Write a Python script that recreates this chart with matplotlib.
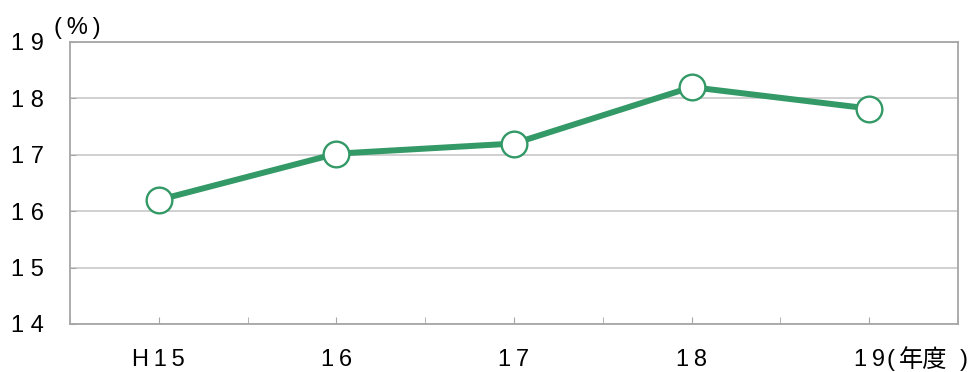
import matplotlib.pyplot as plt
import numpy as np

plt.rcParams['font.family'] = ['Liberation Sans', 'Noto Sans CJK JP', 'DejaVu Sans']

# 年度別の割合 (%)
years = ['H\u20091\u20095', '1\u20096', '1\u20097', '1\u20098', '1\u20099']
rate = [16.2, 17.02, 17.2, 18.2, 17.82]
yticks = [14, 15, 16, 17, 18, 19]
ylabels = ['1 4', '1 5', '1 6', '1 7', '1 8', '1 9']

green = '#339966'
gray = '#a6a6a6'

fig = plt.figure(figsize=(9.78, 3.72), dpi=100)
ax = fig.add_axes([70 / 978, 1 - 324 / 372, 888 / 978, 282 / 372])

x = np.arange(len(years))
ax.plot(x, rate, color=green, lw=4.3, zorder=3, solid_capstyle='round')
ax.plot(x, rate, 'o', ms=18.5, mfc='white', mec=green, mew=1.7, zorder=4)

ax.set_xlim(-0.5, len(years) - 0.5)
ax.set_ylim(14, 19)
ax.set_yticks(yticks)
ax.set_yticklabels(ylabels, fontsize=17)
ax.set_xticks(x)
ax.set_xticklabels(years, fontsize=17)
ax.set_xticks(np.arange(len(years) + 1) - 0.5, minor=True)

ax.tick_params(axis='x', which='both', direction='in', length=5, color=gray, pad=18)
ax.tick_params(axis='y', direction='in', length=4, color=gray, pad=18.5)

ax.grid(axis='y', color='#c8c8c8', lw=1.2)
ax.set_axisbelow(True)
for s in ax.spines.values():
    s.set_color(gray)
    s.set_linewidth(1.3)

# 単位 (年度) を最後の目盛ラベルの右に並べる
tr = ax.get_xaxis_transform()
ax.text(4.118, -0.128, '(', transform=tr, fontsize=17, ha='center', va='center')
ax.text(4.305, -0.128, '年度', transform=tr, fontsize=17.5, ha='center',
        va='center', family='Noto Sans CJK JP')
ax.text(4.535, -0.128, ')', transform=tr, fontsize=17, ha='center', va='center')

ax.text(-0.018, 1.01, '(\u2009%\u2009)', transform=ax.transAxes, fontsize=17,
        ha='left', va='bottom')

fig.savefig('out.png', dpi=100)
